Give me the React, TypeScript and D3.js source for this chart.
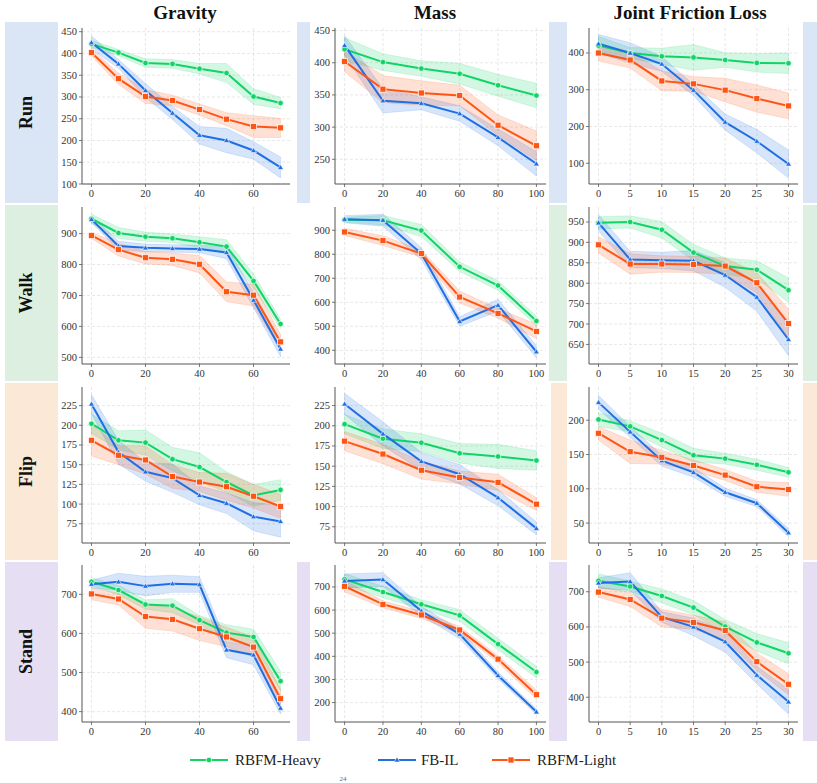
import React from "react";
import * as d3 from "d3";

// ---------- data ----------
const columns = ["Gravity", "Mass", "Joint Friction Loss"];
const rows = ["Run", "Walk", "Flip", "Stand"];
const seriesNames = ["RBFM-Heavy", "FB-IL", "RBFM-Light"];

const xGravity = [0, 10, 20, 30, 40, 50, 60, 70];
const xMass = [0, 20, 40, 60, 80, 100];
const xFriction = [0, 5, 10, 15, 20, 25, 30];
const xTicksGravity = [0, 20, 40, 60];
const xTicksMass = [0, 20, 40, 60, 80, 100];
const xTicksFriction = [0, 5, 10, 15, 20, 25, 30];

// Run
const gravRunHeavy = [422, 402, 378, 376, 365, 355, 301, 286];
const gravRunHeavyErr = [8, 7, 10, 10, 12, 22, 18, 13];
const gravRunIL = [425, 376, 315, 263, 212, 200, 177, 138];
const gravRunILErr = [15, 10, 16, 15, 20, 28, 20, 24];
const gravRunLight = [402, 342, 301, 292, 271, 249, 232, 229];
const gravRunLightErr = [8, 13, 16, 12, 13, 15, 25, 22];

const massRunHeavy = [421, 401, 391, 383, 365, 349];
const massRunHeavyErr = [18, 13, 12, 16, 17, 19];
const massRunIL = [427, 341, 337, 321, 284, 243];
const massRunILErr = [15, 19, 10, 12, 13, 19];
const massRunLight = [402, 359, 353, 349, 303, 271];
const massRunLightErr = [16, 21, 19, 16, 16, 23];

const fricRunHeavy = [420, 400, 391, 388, 381, 373, 372];
const fricRunHeavyErr = [25, 15, 22, 35, 20, 25, 28];
const fricRunIL = [425, 400, 370, 299, 212, 160, 98];
const fricRunILErr = [25, 28, 20, 15, 22, 32, 38];
const fricRunLight = [400, 381, 324, 316, 299, 276, 256];
const fricRunLightErr = [22, 22, 27, 20, 32, 37, 35];

// Walk
const gravWalkHeavy = [948, 902, 890, 885, 872, 858, 747, 608];
const gravWalkHeavyErr = [15, 18, 15, 14, 18, 22, 22, 15];
const gravWalkIL = [946, 860, 854, 852, 850, 839, 685, 527];
const gravWalkILErr = [10, 15, 12, 12, 12, 20, 25, 25];
const gravWalkLight = [894, 848, 822, 817, 801, 712, 701, 550];
const gravWalkLightErr = [10, 20, 20, 20, 28, 32, 35, 25];

const massWalkHeavy = [944, 942, 899, 748, 670, 522];
const massWalkHeavyErr = [10, 20, 25, 20, 20, 20];
const massWalkIL = [946, 942, 803, 520, 588, 394];
const massWalkILErr = [15, 25, 25, 20, 25, 25];
const massWalkLight = [893, 857, 803, 622, 554, 479];
const massWalkLightErr = [15, 20, 15, 25, 20, 30];

const fricWalkHeavy = [948, 950, 931, 875, 842, 833, 783];
const fricWalkHeavyErr = [15, 15, 20, 20, 20, 22, 30];
const fricWalkIL = [948, 858, 856, 855, 820, 766, 662];
const fricWalkILErr = [20, 20, 20, 25, 30, 35, 40];
const fricWalkLight = [894, 847, 847, 846, 842, 801, 701];
const fricWalkLightErr = [20, 25, 20, 20, 20, 25, 35];

// Flip
const gravFlipHeavy = [202, 181, 178, 157, 147, 128, 111, 118];
const gravFlipHeavyErr = [12, 12, 16, 15, 18, 13, 14, 13];
const gravFlipIL = [227, 166, 141, 133, 111, 101, 84, 78];
const gravFlipILErr = [12, 15, 12, 18, 12, 13, 18, 20];
const gravFlipLight = [181, 162, 156, 135, 128, 122, 110, 97];
const gravFlipLightErr = [20, 12, 18, 15, 12, 17, 15, 15];

const massFlipHeavy = [202, 184, 179, 166, 162, 157];
const massFlipHeavyErr = [12, 12, 11, 12, 15, 12];
const massFlipIL = [227, 190, 156, 140, 111, 73];
const massFlipILErr = [13, 15, 11, 12, 10, 8];
const massFlipLight = [181, 165, 145, 136, 130, 103];
const massFlipLightErr = [12, 12, 11, 8, 10, 8];

const fricFlipHeavy = [201, 191, 171, 149, 144, 135, 124];
const fricFlipHeavyErr = [10, 8, 10, 10, 8, 8, 7];
const fricFlipIL = [226, 183, 141, 124, 95, 79, 36];
const fricFlipILErr = [10, 8, 8, 7, 6, 5, 6];
const fricFlipLight = [181, 154, 146, 134, 120, 103, 99];
const fricFlipLightErr = [10, 17, 10, 8, 8, 8, 10];

// Stand
const gravStandHeavy = [732, 711, 674, 671, 634, 602, 591, 478];
const gravStandHeavyErr = [10, 12, 12, 18, 12, 20, 20, 25];
const gravStandIL = [726, 732, 721, 727, 725, 558, 545, 409];
const gravStandILErr = [10, 22, 25, 22, 20, 20, 25, 15];
const gravStandLight = [701, 688, 643, 636, 612, 591, 565, 433];
const gravStandLightErr = [15, 15, 30, 30, 30, 25, 25, 25];

const massStandHeavy = [733, 678, 625, 577, 453, 332];
const massStandHeavyErr = [25, 25, 20, 25, 25, 25];
const massStandIL = [726, 732, 596, 496, 317, 160];
const massStandILErr = [30, 30, 20, 20, 15, 12];
const massStandLight = [703, 625, 579, 514, 388, 234];
const massStandLightErr = [25, 15, 15, 15, 15, 20];

const fricStandHeavy = [731, 715, 688, 655, 601, 556, 525];
const fricStandHeavyErr = [20, 15, 20, 20, 20, 25, 30];
const fricStandIL = [725, 729, 628, 600, 558, 463, 387];
const fricStandILErr = [15, 25, 15, 25, 30, 25, 35];
const fricStandLight = [699, 678, 625, 613, 590, 501, 437];
const fricStandLightErr = [15, 20, 25, 20, 25, 25, 30];

// y ticks & y ranges per panel
const yTicksRun = [d3.range(100, 451, 50), d3.range(250, 451, 50), [100, 200, 300, 400]];
const yTicksWalk = [d3.range(500, 901, 100), d3.range(400, 901, 100), d3.range(650, 951, 50)];
const yTicksFlip = [d3.range(75, 226, 25), d3.range(75, 226, 25), [50, 100, 150, 200]];
const yTicksStand = [[400, 500, 600, 700], d3.range(200, 701, 100), [400, 500, 600, 700]];
const yDomRun = [[100, 458.5], [211.6, 454], [43.6, 468]];
const yDomWalk = [[478.5, 986], [343, 997], [602, 986.7]];
const yDomFlip = [[50.6, 248.6], [54.9, 248], [21, 248.4]];
const yDomStand = [[373.5, 775], [116, 795], [329.7, 776]];

// ---------- build tables ----------
const xs = [xGravity, xMass, xFriction];
const xTicks = [xTicksGravity, xTicksMass, xTicksFriction];
const yTicks = [yTicksRun, yTicksWalk, yTicksFlip, yTicksStand];
const yDoms = [yDomRun, yDomWalk, yDomFlip, yDomStand];
const panelData = [
  [
    [[gravRunHeavy, gravRunHeavyErr], [gravRunIL, gravRunILErr], [gravRunLight, gravRunLightErr]],
    [[massRunHeavy, massRunHeavyErr], [massRunIL, massRunILErr], [massRunLight, massRunLightErr]],
    [[fricRunHeavy, fricRunHeavyErr], [fricRunIL, fricRunILErr], [fricRunLight, fricRunLightErr]],
  ],
  [
    [[gravWalkHeavy, gravWalkHeavyErr], [gravWalkIL, gravWalkILErr], [gravWalkLight, gravWalkLightErr]],
    [[massWalkHeavy, massWalkHeavyErr], [massWalkIL, massWalkILErr], [massWalkLight, massWalkLightErr]],
    [[fricWalkHeavy, fricWalkHeavyErr], [fricWalkIL, fricWalkILErr], [fricWalkLight, fricWalkLightErr]],
  ],
  [
    [[gravFlipHeavy, gravFlipHeavyErr], [gravFlipIL, gravFlipILErr], [gravFlipLight, gravFlipLightErr]],
    [[massFlipHeavy, massFlipHeavyErr], [massFlipIL, massFlipILErr], [massFlipLight, massFlipLightErr]],
    [[fricFlipHeavy, fricFlipHeavyErr], [fricFlipIL, fricFlipILErr], [fricFlipLight, fricFlipLightErr]],
  ],
  [
    [[gravStandHeavy, gravStandHeavyErr], [gravStandIL, gravStandILErr], [gravStandLight, gravStandLightErr]],
    [[massStandHeavy, massStandHeavyErr], [massStandIL, massStandILErr], [massStandLight, massStandLightErr]],
    [[fricStandHeavy, fricStandHeavyErr], [fricStandIL, fricStandILErr], [fricStandLight, fricStandLightErr]],
  ],
];

// ---------- styling / layout ----------
const W = 817;
const H = 783;
const FONT = "Liberation Serif, Times New Roman, serif";
const colors = ["#10d466", "#1f6fe3", "#ff5514"];
const rowColors = ["#dae6f5", "#dcefe1", "#fbe8d6", "#e6dff4"];
const colGeom = [
  { x0: 82, x1: 290 },
  { x0: 335, x1: 546 },
  { x0: 589, x1: 798 },
];
const rowGeom = [
  { y0: 28, y1: 184, b0: 22, b1: 203 },
  { y0: 207, y1: 364, b0: 205, b1: 381 },
  { y0: 387, y1: 543, b0: 383, b1: 560 },
  { y0: 565, y1: 722, b0: 562, b1: 741 },
];
// white panel areas per row (x ranges)
const whiteAreas = [
  [[58, 297], [310, 549], [567, 803]],
  [[58, 310], [310, 549], [567, 803]],
  [[58, 310], [310, 551], [567, 803]],
  [[58, 297], [310, 549], [567, 803]],
];

function Marker({ kind, x, y, color }: { kind: number; x: number; y: number; color: string }) {
  if (kind === 0) return <circle cx={x} cy={y} r={2.8} fill={color} stroke="#fff" strokeWidth={0.7} />;
  if (kind === 1) {
    const s = 3;
    return (
      <path
        d={`M${x},${y - s} L${x + s},${y + s * 0.7} L${x - s},${y + s * 0.7} Z`}
        fill={color}
        stroke="#fff"
        strokeWidth={0.6}
      />
    );
  }
  return <rect x={x - 3} y={y - 3} width={6} height={6} fill={color} stroke="#fff" strokeWidth={0.7} />;
}

function Panel({ r, c }: { r: number; c: number }) {
  const cg = colGeom[c];
  const rg = rowGeom[r];
  const xv = xs[c];
  const xmax = xv[xv.length - 1];
  const x = d3.scaleLinear().domain([-0.05 * xmax, 1.05 * xmax]).range([cg.x0, cg.x1]);
  const y = d3.scaleLinear().domain(yDoms[r][c]).range([rg.y1, rg.y0]);
  const series = panelData[r][c];
  const line = d3
    .line<number>()
    .x((_, i) => x(xv[i]))
    .y((d) => y(d));
  const area = (m: number[], e: number[]) =>
    d3
      .area<number>()
      .x((_, i) => x(xv[i]))
      .y0((d, i) => y(d - e[i]))
      .y1((d, i) => y(d + e[i]))(m) as string;
  return (
    <g>
      {xTicks[c].map((t) => (
        <line key={"gx" + t} x1={x(t)} x2={x(t)} y1={rg.y0} y2={rg.y1} stroke="#dedede" strokeWidth={0.7} strokeDasharray="3,2" />
      ))}
      {yTicks[r][c].map((t) => (
        <line key={"gy" + t} x1={cg.x0} x2={cg.x1} y1={y(t)} y2={y(t)} stroke="#dedede" strokeWidth={0.7} strokeDasharray="3,2" />
      ))}
      {series.map(([m, e], i) => (
        <path key={"a" + i} d={area(m, e)} fill={colors[i]} fillOpacity={0.18} stroke={colors[i]} strokeOpacity={0.25} strokeWidth={0.6} />
      ))}
      {series.map(([m], i) => (
        <path key={"l" + i} d={line(m) as string} fill="none" stroke={colors[i]} strokeWidth={2} />
      ))}
      {series.map(([m], i) =>
        m.map((v, j) => <Marker key={"m" + i + "-" + j} kind={i} x={x(xv[j])} y={y(v)} color={colors[i]} />)
      )}
      <line x1={cg.x0} x2={cg.x0} y1={rg.y0} y2={rg.y1} stroke="#555" strokeWidth={1} />
      <line x1={cg.x0} x2={cg.x1} y1={rg.y1} y2={rg.y1} stroke="#555" strokeWidth={1} />
      {xTicks[c].map((t) => (
        <g key={"xt" + t}>
          <line x1={x(t)} x2={x(t)} y1={rg.y1} y2={rg.y1 + 3} stroke="#555" strokeWidth={0.8} />
          <text x={x(t)} y={rg.y1 + 13} textAnchor="middle" fontSize={10.5} fontFamily={FONT} fill="#333">
            {t}
          </text>
        </g>
      ))}
      {yTicks[r][c].map((t) => (
        <g key={"yt" + t}>
          <line x1={cg.x0 - 3} x2={cg.x0} y1={y(t)} y2={y(t)} stroke="#555" strokeWidth={0.8} />
          <text x={cg.x0 - 5} y={y(t) + 3.5} textAnchor="end" fontSize={10.5} fontFamily={FONT} fill="#333">
            {t}
          </text>
        </g>
      ))}
    </g>
  );
}

export default function App() {
  const colCenters = [185, 435, 690];
  const legendItems = [
    { x: 190, tx: 235 },
    { x: 378, tx: 421 },
    { x: 492, tx: 537 },
  ];
  return (
    <svg
      width={W}
      height={H}
      style={{ position: "absolute", left: 0, top: 0, background: "#fff" }}
      xmlns="http://www.w3.org/2000/svg"
    >
      <rect x={0} y={0} width={W} height={H} fill="#fff" />
      {rowGeom.map((rg, r) => (
        <g key={"band" + r}>
          <rect x={5} y={rg.b0} width={W - 5} height={rg.b1 - rg.b0} fill={rowColors[r]} />
          {whiteAreas[r].map(([a, b], k) => (
            <rect key={k} x={a} y={rg.b0} width={b - a} height={rg.b1 - rg.b0} fill="#fff" />
          ))}
          <text
            transform={`translate(32,${(rg.b0 + rg.b1) / 2}) rotate(-90)`}
            textAnchor="middle"
            fontSize={18}
            fontWeight="bold"
            fontFamily={FONT}
            fill="#111"
          >
            {rows[r]}
          </text>
        </g>
      ))}
      {columns.map((c, i) => (
        <text key={c} x={colCenters[i]} y={19} textAnchor="middle" fontSize={19} fontWeight="bold" fontFamily={FONT} fill="#111">
          {c}
        </text>
      ))}
      {rows.map((_, r) => columns.map((_, c) => <Panel key={r + "-" + c} r={r} c={c} />))}
      {seriesNames.map((n, i) => (
        <g key={n}>
          <line x1={legendItems[i].x} x2={legendItems[i].x + 38} y1={760} y2={760} stroke={colors[i]} strokeWidth={2} />
          <Marker kind={i} x={legendItems[i].x + 19} y={760} color={colors[i]} />
          <text x={legendItems[i].tx} y={765} fontSize={15} fontFamily={FONT} fill="#222">
            {n}
          </text>
        </g>
      ))}
      <text x={343} y={781} textAnchor="middle" fontSize={7} fontFamily={FONT} fill="#666">
        24
      </text>
    </svg>
  );
}
